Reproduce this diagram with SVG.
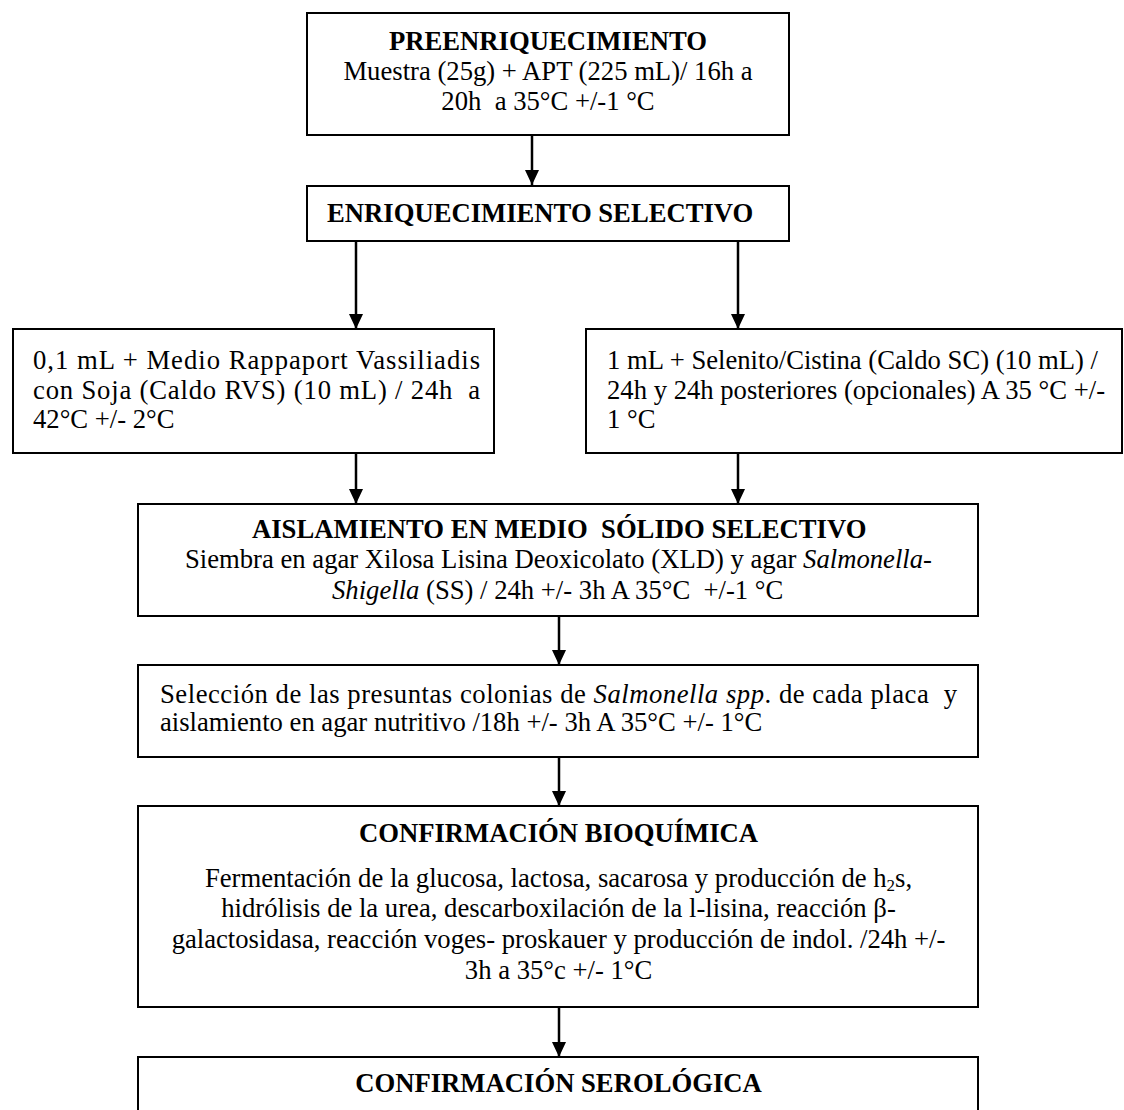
<svg xmlns="http://www.w3.org/2000/svg" width="1124" height="1110" viewBox="0 0 1124 1110">
<style>
.box{fill:#fff;stroke:#000;stroke-width:2}
text{font-family:"Liberation Serif","Times New Roman",serif;fill:#000;font-size:26.67px}
.b{font-weight:bold}
.c{text-anchor:middle}
.i{font-style:italic}
.con{stroke:#000;stroke-width:2.5;fill:none}
</style>
<defs>
<marker id="ah" viewBox="0 0 15 14" refX="15" refY="7" markerWidth="15" markerHeight="14" markerUnits="userSpaceOnUse" orient="auto">
<path d="M0,0 L15,7 L0,14 Z" fill="#000"/>
</marker>
</defs>
<rect width="1124" height="1110" fill="#fff"/>
<g id="connectors">
<line class="con" x1="532" y1="135" x2="532" y2="185" marker-end="url(#ah)"/>
<line class="con" x1="356" y1="241" x2="356" y2="329" marker-end="url(#ah)"/>
<line class="con" x1="738" y1="241" x2="738" y2="329" marker-end="url(#ah)"/>
<line class="con" x1="356" y1="453" x2="356" y2="504" marker-end="url(#ah)"/>
<line class="con" x1="738" y1="453" x2="738" y2="504" marker-end="url(#ah)"/>
<line class="con" x1="559" y1="616" x2="559" y2="665" marker-end="url(#ah)"/>
<line class="con" x1="559" y1="757" x2="559" y2="806" marker-end="url(#ah)"/>
<line class="con" x1="559" y1="1007" x2="559" y2="1057" marker-end="url(#ah)"/>
</g>
<g id="preenriquecimiento">
<rect class="box" x="307" y="13" width="482" height="122"/>
<text class="b c" x="548" y="50">PREENRIQUECIMIENTO</text>
<text class="c" x="548" y="80">Muestra (25g) + APT (225 mL)/ 16h a</text>
<text class="c" x="548" y="110" xml:space="preserve">20h  a 35°C +/-1 °C</text>
</g>
<g id="enriquecimiento">
<rect class="box" x="307" y="186" width="482" height="55"/>
<text class="b" x="327" y="222">ENRIQUECIMIENTO SELECTIVO</text>
</g>
<g id="rvs">
<rect class="box" x="13" y="329" width="481" height="124"/>
<text x="33" y="369" textLength="447" lengthAdjust="spacing">0,1 mL + Medio Rappaport Vassiliadis</text>
<text x="33" y="399" textLength="447" lengthAdjust="spacing" xml:space="preserve">con Soja (Caldo RVS) (10 mL) / 24h  a</text>
<text x="33" y="428">42°C +/- 2°C</text>
</g>
<g id="sc">
<rect class="box" x="586" y="329" width="536" height="124"/>
<text x="607" y="369">1 mL + Selenito/Cistina (Caldo SC) (10 mL) /</text>
<text x="607" y="399">24h y 24h posteriores (opcionales) A 35 °C +/-</text>
<text x="607" y="428">1 °C</text>
</g>
<g id="aislamiento">
<rect class="box" x="138" y="504" width="840" height="112"/>
<text class="b" x="252" y="538" xml:space="preserve">AISLAMIENTO EN MEDIO  SÓLIDO SELECTIVO</text>
<text x="185" y="568">Siembra en agar Xilosa Lisina Deoxicolato (XLD) y agar <tspan class="i">Salmonella-</tspan></text>
<text x="332" y="599" xml:space="preserve"><tspan class="i">Shigella</tspan> (SS) / 24h +/- 3h A 35°C  +/-1 °C</text>
</g>
<g id="seleccion">
<rect class="box" x="138" y="665" width="840" height="92"/>
<text x="160" y="703" textLength="797" lengthAdjust="spacing" xml:space="preserve">Selección de las presuntas colonias de <tspan class="i">Salmonella spp</tspan>. de cada placa  y</text>
<text x="160" y="731">aislamiento en agar nutritivo /18h +/- 3h A 35°C +/- 1°C</text>
</g>
<g id="bioquimica">
<rect class="box" x="138" y="806" width="840" height="201"/>
<text class="b c" x="558.5" y="842">CONFIRMACIÓN BIOQUÍMICA</text>
<text class="c" x="558.5" y="887">Fermentación de la glucosa, lactosa, sacarosa y producción de h<tspan font-size="17" dy="4">2</tspan><tspan dy="-4">s,</tspan></text>
<text class="c" x="558.5" y="917">hidrólisis de la urea, descarboxilación de la l-lisina, reacción β-</text>
<text class="c" x="558.5" y="948">galactosidasa, reacción voges- proskauer y producción de indol. /24h +/-</text>
<text class="c" x="558.5" y="979">3h a 35°c +/- 1°C</text>
</g>
<g id="serologica">
<rect class="box" x="138" y="1057" width="840" height="80"/>
<text class="b c" x="558.5" y="1092">CONFIRMACIÓN SEROLÓGICA</text>
</g>
</svg>
